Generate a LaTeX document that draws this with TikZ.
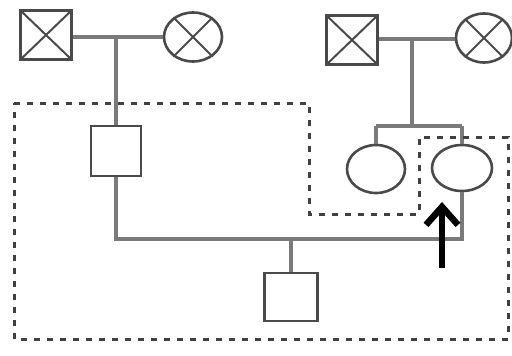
\documentclass[tikz,border=0pt]{standalone}
\usetikzlibrary{shapes.geometric,arrows.meta}
\definecolor{lineg}{HTML}{7A7A7A}
\definecolor{shapeg}{HTML}{4A4A4A}
\definecolor{dashg}{HTML}{404040}
\tikzset{
  male/.style={draw=shapeg,line width=2.6pt,rectangle,inner sep=0pt,minimum width=#1},
  fem/.style={draw=shapeg,line width=2.6pt,ellipse,inner sep=0pt},
  crossed/.style={path picture={\draw[shapeg,line width=2pt] (path picture bounding box.south west)--(path picture bounding box.north east) (path picture bounding box.north west)--(path picture bounding box.south east);}},
  link/.style={draw=lineg,line width=3.2pt},
  outline/.style={draw=dashg,line width=3pt,dash pattern=on 6pt off 7pt},
  proband/.style={line width=6pt,-{Straight Barb[length=18pt,width=32pt,line width=6.5pt]}}
}
\begin{document}
\begin{tikzpicture}[x=1pt,y=-1pt]
\useasboundingbox (0,0) rectangle (512,356);
% top-left couple
\node[male=51pt,minimum height=49pt,crossed] (gf1) at (46,35) {};
\node[fem,minimum width=58pt,minimum height=49pt] (gm1) at (193,37) {};
\draw[shapeg,line width=2pt] (gm1.45)--(gm1.225) (gm1.135)--(gm1.315);
% top-right couple
\node[male=51pt,minimum height=49pt,crossed] (gf2) at (352,40) {};
\node[fem,minimum width=56pt,minimum height=49pt] (gm2) at (484,38) {};
\draw[shapeg,line width=2pt] (gm2.45)--(gm2.225) (gm2.135)--(gm2.315);
% second generation
\node[male=50pt,minimum height=50pt] (father) at (116,151) {};
\node[fem,minimum width=58pt,minimum height=48pt] (aunt) at (376,169) {};
\node[fem,minimum width=60pt,minimum height=46pt] (mother) at (462,168) {};
% child
\node[male=53pt,minimum height=48pt] (child) at (291,297) {};
% coordinates
\coordinate (m1) at (116,37);
\coordinate (m2) at (412,39);
\coordinate (s2) at (412,126);
\coordinate (sl) at (376,126);
\coordinate (sr) at (462,126);
\coordinate (bl) at (116,239);
\coordinate (br) at (462,239);
\coordinate (bc) at (291,239);
% connectors
\draw[link] (gf1.east|-m1) -- (gm1.west|-m1);
\draw[link] (m1) -- (father.north);
\draw[link] (gf2.east|-m2) -- (gm2.west|-m2);
\draw[link] (m2) -- (s2);
\draw[link] (sl) -- (sr);
\draw[link] (sl) -- (aunt.north);
\draw[link] (sr) -- (mother.north);
\draw[link] (father.south) -- (bl) -- (br) -- (mother.south);
\draw[link] (bc) -- (child.north);
% dashed outline
\draw[outline] (14,103) -- (309,103) -- (309,214) -- (419,214) -- (419,137) -- (508,137) -- (508,339) -- (14,339) -- cycle;
% proband arrow
\coordinate (a0) at (442,268);
\coordinate (a1) at (442,202);
\draw[proband] (a0) -- (a1);
\end{tikzpicture}
\end{document}
